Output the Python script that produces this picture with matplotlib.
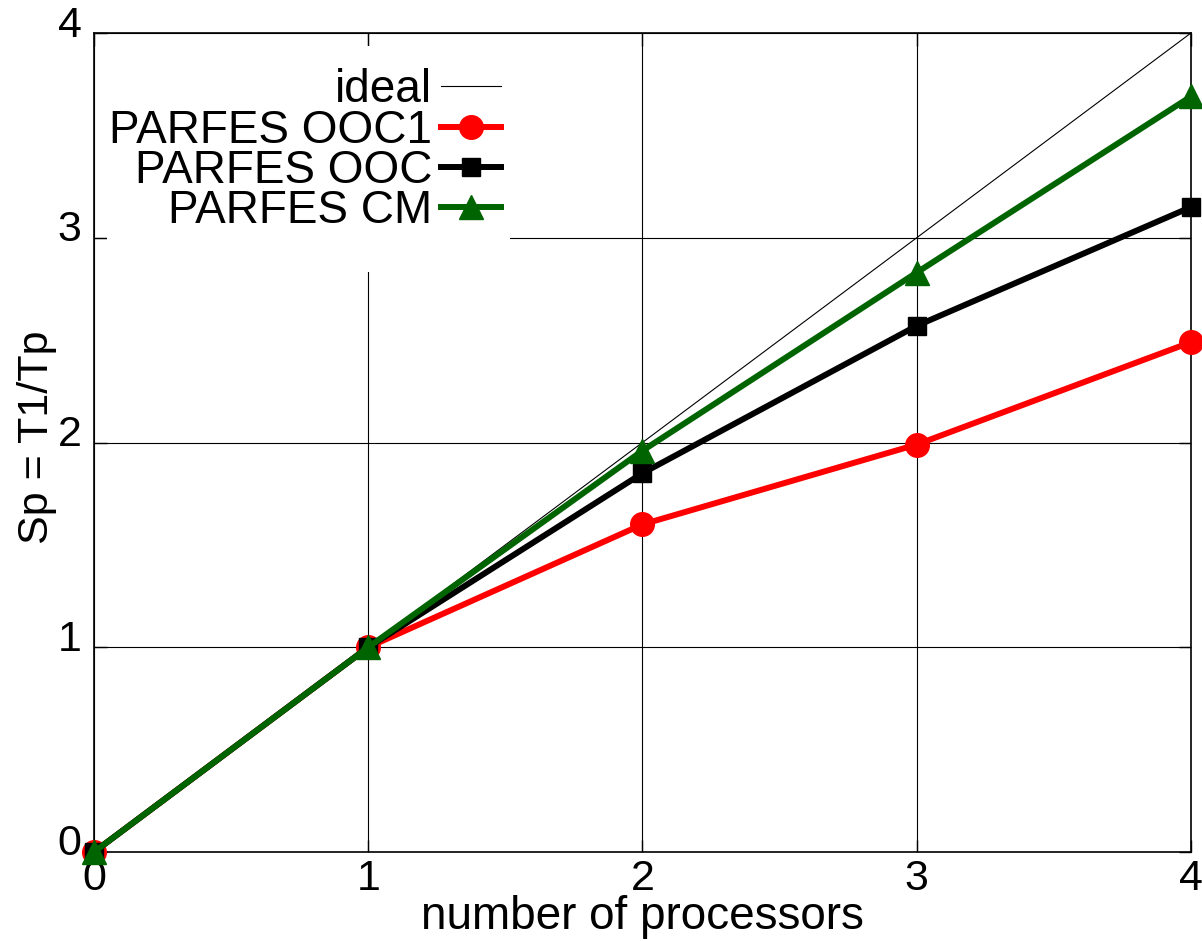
import numpy as np
import matplotlib
matplotlib.use("Agg")
import matplotlib.pyplot as plt
import matplotlib.transforms as mtransforms
from matplotlib.patches import Rectangle

plt.rcParams['font.family'] = ['Liberation Sans', 'DejaVu Sans']

# speedup data
procs = [0, 1, 2, 3, 4]
ideal = [0, 1, 2, 3, 4]
ooc1 = [0, 1, 1.60, 1.99, 2.49]
ooc = [0, 1, 1.85, 2.57, 3.15]
cm = [0, 1, 1.96, 2.83, 3.69]
ticks = [0, 1, 2, 3, 4]

fig = plt.figure(figsize=(12.02, 9.41), dpi=100)
ax = fig.add_axes([0.0782, 0.0946, 0.9126, 0.8703])

ax.plot(procs, ideal, color='black', lw=0.8, label='ideal', zorder=2)
ax.plot(procs, ooc1, color='#ff0000', lw=4.3, marker='o', ms=17,
        label='PARFES OOC1', clip_on=False, zorder=3)
ax.plot(procs, ooc, color='black', lw=4.3, marker='s', ms=13,
        label='PARFES OOC', clip_on=False, zorder=4)
ax.plot(procs, cm, color='#006400', lw=4.3, marker='^', ms=17,
        label='PARFES CM', clip_on=False, zorder=5)

ax.set_xlim(0, 4)
ax.set_ylim(0, 4)
ax.set_xticks(ticks)
ax.set_yticks(ticks)
ax.grid(True, color='black', lw=0.8)
ax.set_axisbelow(True)
ax.tick_params(direction='in', length=9, width=1, top=True, right=True,
               labelsize=31, colors='black')
ax.tick_params(axis='x', pad=5)
ax.tick_params(axis='y', pad=9)
for sp in ax.spines.values():
    sp.set_linewidth(1.2)

# y labels sit a little above their ticks
shift = mtransforms.ScaledTranslation(0, 12 / 100, fig.dpi_scale_trans)
for lab in ax.get_yticklabels():
    lab.set_transform(lab.get_transform() + shift)

ax.set_xlabel('number of processors', fontsize=33, labelpad=-3)
ax.set_ylabel('Sp = T1/Tp', fontsize=31)
ax.yaxis.set_label_coords(-0.034, 0.506)

# white key area over the grid
ax.add_patch(Rectangle((0.012, 0.708), 0.367, 0.276, transform=ax.transAxes,
                       facecolor='white', edgecolor='none', zorder=1))

leg = ax.legend(loc='upper right', bbox_to_anchor=(0.371, 0.957),
                frameon=False, markerfirst=False, fontsize=33,
                handlelength=1.3, handletextpad=0.2, labelspacing=-0.08,
                borderpad=0, borderaxespad=0)

fig.savefig('out.png', dpi=100)
